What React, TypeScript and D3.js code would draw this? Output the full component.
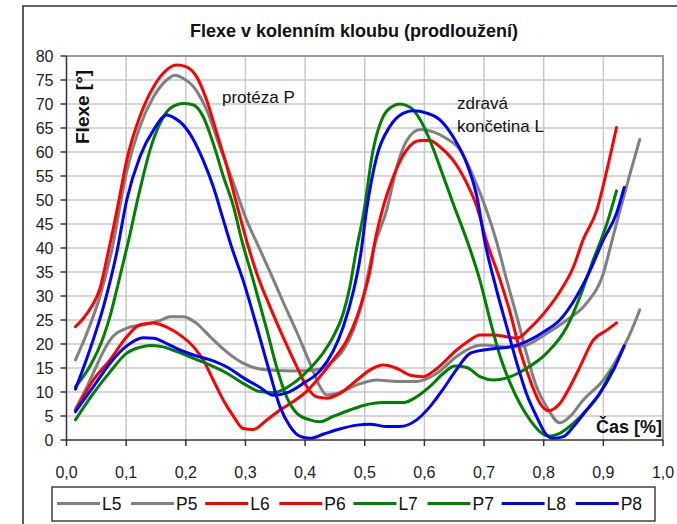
import React from "react";
import * as d3 from "d3";

type Pt = [number, number];

const xTicks = [0, 0.1, 0.2, 0.3, 0.4, 0.5, 0.6, 0.7, 0.8, 0.9, 1.0];
const yTicks = [0, 5, 10, 15, 20, 25, 30, 35, 40, 45, 50, 55, 60, 65, 70, 75, 80];

const L5: Pt[] = [[.015,6.5],[.03,10],[.045,14],[.06,18],[.073,20.8],[.101,23.3],[.129,24.0],[.157,24.9],[.174,25.7],[.196,25.7],[.218,24.3],[.241,21.5],[.269,18.3],[.296,16],[.324,14.8],[.352,14.5],[.38,14.4],[.408,14.5],[.425,14.8],[.442,16.0],[.464,18.75],[.481,22.9],[.492,27.1],[.503,33],[.514,39.5],[.537,48],[.554,57],[.57,62.3],[.593,64.7],[.615,64.2],[.637,62.8],[.66,60.4],[.682,54.9],[.704,47.9],[.721,41.3],[.738,33.3],[.755,25.7],[.771,18.1],[.788,11.1],[.805,6.9],[.827,3.6],[.844,4.9],[.866,8.3],[.9,12.5],[.922,16.7],[.945,22.2],[.961,27.1]];
const P5: Pt[] = [[.015,16.7],[.034,22.2],[.056,29.9],[.075,39],[.101,56],[.123,65.3],[.146,71.5],[.168,75],[.182,76],[.196,75.3],[.213,73.6],[.235,68.75],[.257,61.1],[.28,53.5],[.302,45.8],[.322,40.3],[.343,34.5],[.363,28.8],[.386,22.5],[.408,16.0],[.425,11.1],[.436,9.4],[.453,9.7],[.487,11.5],[.52,12.5],[.554,12.2],[.587,12.2],[.621,13.9],[.654,17.4],[.676,19.1],[.699,19.8],[.738,19.4],[.766,19.6],[.805,22.2],[.839,25],[.872,28.5],[.9,34.7],[.914,41.3],[.928,47.9],[.945,55.6],[.961,62.6]];
const L6: Pt[] = [[.015,6.1],[.045,12.5],[.073,16.7],[.101,21.5],[.123,24.0],[.146,24.4],[.168,23.5],[.19,21.9],[.213,19.4],[.229,16.7],[.246,12.5],[.263,8.3],[.28,4.9],[.296,2.4],[.313,2.2],[.336,4.2],[.358,6.25],[.38,8.0],[.403,10.2],[.425,13.2],[.447,16.7],[.47,20.8],[.487,25.7],[.498,29.9],[.509,35.4],[.517,41.3],[.531,48.6],[.548,54.9],[.57,60.4],[.593,62.4],[.609,62.4],[.626,61.1],[.648,58.3],[.671,53.5],[.688,48.6],[.704,41.5],[.727,33.3],[.744,26.4],[.76,18.75],[.777,12.5],[.794,7.6],[.808,6.1],[.827,7.6],[.844,11.1],[.861,15.3],[.883,20.8],[.906,22.9],[.922,24.4]];
const P6: Pt[] = [[.015,23.6],[.028,25.3],[.042,27.8],[.056,31.5],[.068,38],[.078,43.8],[.088,50],[.101,58.3],[.123,67.4],[.146,73.6],[.168,77.1],[.185,78.1],[.2,77.8],[.218,75.7],[.235,70.8],[.252,63.9],[.269,56.9],[.285,49.3],[.302,41.5],[.319,34.7],[.341,27.8],[.363,21.5],[.386,15.3],[.403,11.1],[.419,9.0],[.436,8.7],[.458,9.7],[.487,12.5],[.509,14.6],[.531,15.6],[.554,14.9],[.576,13.5],[.598,13.2],[.621,14.9],[.654,18.75],[.676,20.8],[.693,21.9],[.716,21.9],[.738,21.5],[.755,21.2],[.777,23.3],[.805,27.1],[.827,30.9],[.85,36.1],[.866,41.7],[.889,47.9],[.906,56.25],[.922,65.1]];
const L7: Pt[] = [[.015,4.2],[.045,9.7],[.073,14.2],[.101,18.1],[.123,19.3],[.14,19.7],[.162,19.4],[.185,18.4],[.213,17.0],[.241,15.6],[.269,13.9],[.296,11.8],[.324,10.1],[.347,9.9],[.38,11.8],[.408,14.9],[.43,18.1],[.447,21.5],[.464,26.4],[.475,31.9],[.485,39],[.498,47.2],[.514,60.4],[.531,67.4],[.545,69.4],[.559,70.0],[.576,69.3],[.593,66.7],[.609,62.5],[.626,56.9],[.648,49.3],[.671,41.7],[.693,33.3],[.71,25],[.727,17.4],[.744,11.8],[.76,7.6],[.777,4.2],[.794,1.7],[.808,0.8],[.827,1.4],[.85,3.5],[.872,6.25],[.894,9.7],[.914,14.5]];
const P7: Pt[] = [[.015,11.1],[.039,15.3],[.062,21.5],[.073,25.8],[.084,31.2],[.103,41],[.123,52.1],[.14,60.4],[.157,66.0],[.174,69.1],[.196,70.1],[.213,69.8],[.229,67.4],[.246,61.8],[.263,54.9],[.28,48.6],[.293,42],[.313,33.3],[.336,22.9],[.352,15.3],[.369,9.0],[.386,5.6],[.408,4.2],[.425,3.8],[.447,4.9],[.475,6.25],[.498,7.2],[.531,7.8],[.565,7.8],[.587,9.0],[.609,11.1],[.632,13.9],[.651,15.4],[.671,15.1],[.693,13.2],[.716,12.5],[.744,13.2],[.771,14.9],[.805,18.1],[.839,23.6],[.861,29.9],[.883,37.5],[.894,41],[.906,45.1],[.922,51.9]];
const L8: Pt[] = [[.015,5.9],[.045,11.1],[.073,16.0],[.101,19.6],[.129,21.3],[.146,21.2],[.168,20.1],[.19,18.75],[.213,17.7],[.241,16.7],[.269,15.2],[.296,13.0],[.324,11.0],[.347,9.3],[.369,9.8],[.397,11.8],[.425,14.4],[.447,18.5],[.464,23.6],[.481,31],[.493,38.5],[.503,47.9],[.52,59.0],[.542,65.3],[.565,68.1],[.581,68.6],[.604,68.1],[.626,66.7],[.648,63.2],[.671,57.6],[.688,50.7],[.701,41.5],[.721,31.25],[.738,23.6],[.755,16.0],[.771,9.7],[.788,4.9],[.805,1.0],[.816,0.35],[.833,0.7],[.85,2.8],[.872,6.25],[.894,9.7],[.917,14.6],[.935,19.6]];
const P8: Pt[] = [[.015,10.6],[.039,18.75],[.062,27.8],[.084,38.9],[.101,50],[.123,59.0],[.146,64.6],[.168,67.7],[.182,67.0],[.196,65.6],[.213,62.5],[.229,58.3],[.246,52.8],[.263,45.8],[.276,40.5],[.296,33.3],[.319,23.6],[.341,13.9],[.358,6.9],[.375,2.8],[.391,0.8],[.408,0.35],[.431,1.25],[.458,2.3],[.487,3.1],[.509,3.3],[.537,2.8],[.559,2.8],[.587,4.2],[.609,6.9],[.632,10.7],[.654,14.7],[.676,18.0],[.699,18.75],[.721,19.1],[.744,19.4],[.771,20.5],[.805,22.9],[.827,25],[.855,29.9],[.878,35.4],[.9,41.7],[.922,47.2],[.935,52.6]];

const seriesNames = ["L5", "P5", "L6", "P6", "L7", "P7", "L8", "P8"];
const seriesColors = ["#808080", "#808080", "#ff0000", "#ff0000", "#008000", "#008000", "#0000ff", "#0000ff"];
const seriesData = [L5, P5, L6, P6, L7, P7, L8, P8];

const FONT = "'Liberation Sans', Arial, sans-serif";

export default function App() {
  const W = 677, H = 524;
  const x = d3.scaleLinear().domain([0, 1]).range([66.5, 663]);
  const y = d3.scaleLinear().domain([0, 80]).range([440, 56]);
  const line = d3.line<Pt>().x(d => x(d[0])).y(d => y(d[1])).curve(d3.curveMonotoneX);
  const fmt = (v: number) => d3.format(".1f")(v).replace(".", ",");

  const legendX0 = 57, legendStep = 74.1, legendY = 503.5;

  return (
    <svg width={W} height={H} style={{ position: "absolute", left: 0, top: 0, background: "#fff" }} fontFamily={FONT}>
      <rect x={0} y={0} width={W} height={H} fill="#fff" />
      <path d={`M23,${H + 5} L23,6 L${W + 5},6`} fill="none" stroke="#333" strokeWidth={1.6} />
      {yTicks.filter(t => t > 0 && t < 80).map(t => (
        <line key={"gy" + t} x1={x(0)} x2={x(1)} y1={y(t)} y2={y(t)} stroke="#c8c8c8" strokeWidth={1.5} />
      ))}
      {xTicks.filter(t => t > 0 && t < 1).map(t => (
        <line key={"gx" + t} x1={x(t)} x2={x(t)} y1={y(0)} y2={y(80)} stroke="#c8c8c8" strokeWidth={1.5} />
      ))}
      <path d={`M${x(0)},${y(80)} L${x(1)},${y(80)} L${x(1)},${y(0)}`} fill="none" stroke="#999" strokeWidth={2} />
      {seriesData.map((d, i) => (
        <path key={seriesNames[i]} d={line(d) || ""} fill="none" stroke={seriesColors[i]} strokeWidth={3} strokeLinejoin="round" strokeLinecap="round" />
      ))}
      <line x1={x(0)} x2={x(0)} y1={y(0)} y2={y(80)} stroke="#333" strokeWidth={1.5} />
      <line x1={x(0)} x2={x(1)} y1={y(0)} y2={y(0)} stroke="#333" strokeWidth={1.5} />
      {yTicks.map(t => (
        <g key={"yt" + t}>
          <line x1={x(0) - 6} x2={x(0)} y1={y(t)} y2={y(t)} stroke="#333" strokeWidth={1.5} />
          <text x={53.5} y={y(t) + 5.6} textAnchor="end" fontSize={16} fill="#222">{t}</text>
        </g>
      ))}
      {xTicks.map(t => (
        <g key={"xt" + t}>
          <line x1={x(t)} x2={x(t)} y1={y(0)} y2={y(0) + 6} stroke="#333" strokeWidth={1.5} />
          <text x={x(t)} y={478} textAnchor="middle" fontSize={16} fill="#222">{fmt(t)}</text>
        </g>
      ))}
      <text x={354} y={37} textAnchor="middle" fontSize={18} fontWeight="bold" fill="#111">Flexe v kolenním kloubu (prodloužení)</text>
      <text transform="translate(89,144) rotate(-90)" fontSize={19} fontWeight="bold" fill="#111">Flexe [°]</text>
      <text x={662} y={433} textAnchor="end" fontSize={18} fontWeight="bold" fill="#111">Čas [%]</text>
      <text x={222} y={103} fontSize={17} fill="#111">protéza P</text>
      <text x={457} y={109} fontSize={17} fill="#111">zdravá</text>
      <text x={457} y={132} fontSize={17} fill="#111">končetina L</text>
      <rect x={52} y={487} width={603} height={34} fill="#fff" stroke="#111" strokeWidth={1.2} />
      {seriesNames.map((n, i) => {
        const lx = legendX0 + i * legendStep;
        return (
          <g key={"lg" + n}>
            <line x1={lx} x2={lx + 43} y1={legendY} y2={legendY} stroke={seriesColors[i]} strokeWidth={3} />
            <text x={lx + 45} y={legendY + 6.3} fontSize={17.5} fill="#111">{n}</text>
          </g>
        );
      })}
    </svg>
  );
}
